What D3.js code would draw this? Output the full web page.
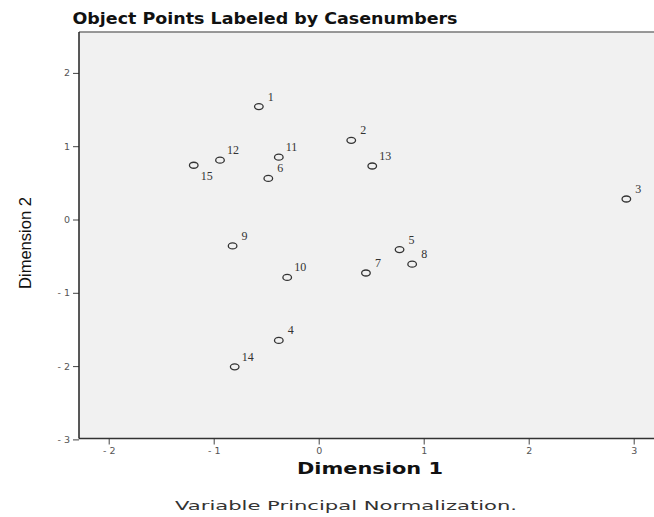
<!DOCTYPE html>
<html>
<head>
<meta charset="utf-8">
<script src="https://cdn.jsdelivr.net/npm/d3@7"></script>
<style>
  body { margin: 0; background: #fff; }
  svg { display: block; }
</style>
</head>
<body>
<div id="chart"></div>
<script>
// case numbers and their object scores
const cases = [1, 2, 3, 4, 5, 6, 7, 8, 9, 10, 11, 12, 13, 14, 15];
const dim1 = [-0.57, 0.31, 2.93, -0.38, 0.77, -0.48, 0.45, 0.89, -0.82, -0.30, -0.38, -0.94, 0.51, -0.80, -1.19];
const dim2 = [1.54, 1.08, 0.28, -1.65, -0.41, 0.56, -0.73, -0.61, -0.36, -0.79, 0.85, 0.81, 0.73, -2.01, 0.74];
const xTicks = [-2, -1, 0, 1, 2, 3];
const yTicks = [-3, -2, -1, 0, 1, 2];
const belowLabel = [15];

const largura = 654, altura = 517;
const svg = d3.select('#chart').append('svg')
    .attr('width', largura)
    .attr('height', altura);

const esq = 79, topo = 32, base = 438.5, dir = 700;
const x = d3.scaleLinear().domain([0, 1]).range([318.7, 423.7]);
const y = d3.scaleLinear().domain([0, 1]).range([219.5, 146.2]);

// fundo do gráfico
svg.append('rect')
    .attr('x', esq).attr('y', topo)
    .attr('width', dir - esq).attr('height', base - topo)
    .attr('fill', '#f1f1f1');
svg.append('line')
    .attr('x1', esq).attr('x2', dir).attr('y1', topo).attr('y2', topo)
    .attr('stroke', '#777').attr('stroke-width', 1.5);

// eixos
const fmt = d => (d < 0 ? '- ' + Math.abs(d) : String(d));
const xAxis = svg.append('g')
    .attr('transform', `translate(0,${base})`)
    .call(d3.axisBottom(x).tickValues(xTicks).tickFormat(fmt).tickSize(6).tickPadding(3));
const yAxis = svg.append('g')
    .attr('transform', `translate(${esq},0)`)
    .call(d3.axisLeft(y).tickValues(yTicks).tickFormat(fmt).tickSize(6).tickPadding(3));
[xAxis, yAxis].forEach(g => {
    g.select('.domain').remove();
    g.selectAll('.tick line').attr('stroke', '#444');
    g.selectAll('.tick text')
        .attr('fill', '#555')
        .style('font-family', 'DejaVu Sans')
        .style('font-size', '9.5px');
});
svg.append('line')
    .attr('x1', esq).attr('x2', dir).attr('y1', base).attr('y2', base)
    .attr('stroke', '#333').attr('stroke-width', 1.5);
svg.append('line')
    .attr('x1', esq).attr('x2', esq).attr('y1', topo).attr('y2', base)
    .attr('stroke', '#222').attr('stroke-width', 1.5);

// pontos
const pontos = cases.map((c, i) => ({ id: c, d1: dim1[i], d2: dim2[i] }));
const g = svg.append('g');
g.selectAll('ellipse')
    .data(pontos)
    .enter()
    .append('ellipse')
    .attr('cx', d => x(d.d1))
    .attr('cy', d => y(d.d2))
    .attr('rx', 4.3).attr('ry', 3)
    .attr('fill', 'none')
    .attr('stroke', '#333')
    .attr('stroke-width', 1.3);
g.selectAll('text')
    .data(pontos)
    .enter()
    .append('text')
    .attr('x', d => x(d.d1) + (d.id < 10 ? 9 : 7))
    .attr('y', d => y(d.d2) + (belowLabel.includes(d.id) ? 15 : -6))
    .attr('fill', '#333')
    .style('font-family', 'Liberation Serif')
    .style('font-size', '12px')
    .text(d => d.id);

// textos
svg.append('text')
    .attr('x', 265).attr('y', 24)
    .attr('text-anchor', 'middle')
    .attr('textLength', 385).attr('lengthAdjust', 'spacingAndGlyphs')
    .style('font-family', 'DejaVu Sans').style('font-weight', 'bold')
    .style('font-size', '15px').attr('fill', '#111')
    .text('Object Points Labeled by Casenumbers');
svg.append('text')
    .attr('x', 370).attr('y', 474)
    .attr('text-anchor', 'middle')
    .attr('textLength', 146).attr('lengthAdjust', 'spacingAndGlyphs')
    .style('font-family', 'DejaVu Sans').style('font-weight', 'bold')
    .style('font-size', '15px').attr('fill', '#111')
    .text('Dimension 1');
svg.append('text')
    .attr('x', 346).attr('y', 510)
    .attr('text-anchor', 'middle')
    .attr('textLength', 342).attr('lengthAdjust', 'spacingAndGlyphs')
    .style('font-family', 'DejaVu Sans')
    .style('font-size', '12px').attr('fill', '#333')
    .text('Variable Principal Normalization.');
svg.append('text')
    .attr('transform', 'translate(31,243) rotate(-90)')
    .attr('text-anchor', 'middle')
    .attr('textLength', 92).attr('lengthAdjust', 'spacingAndGlyphs')
    .style('font-family', 'Liberation Sans')
    .style('font-size', '16px').attr('fill', '#111')
    .text('Dimension 2');
</script>
</body>
</html>
